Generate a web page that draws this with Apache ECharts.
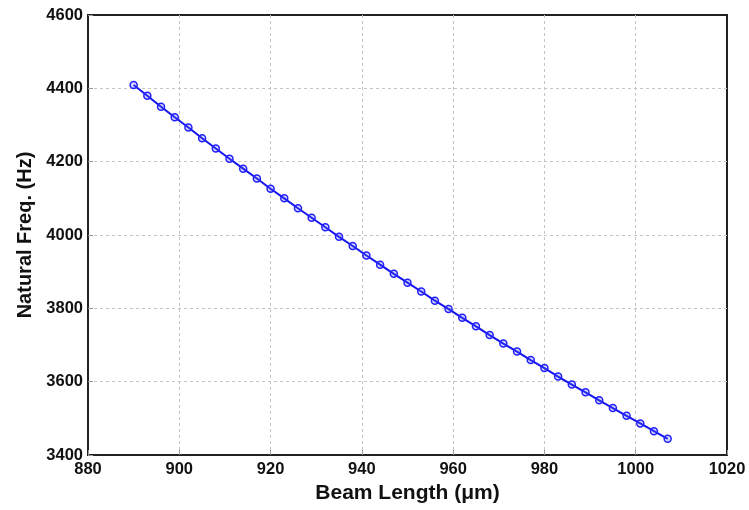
<!DOCTYPE html>
<html>
<head>
<meta charset="utf-8">
<script src="https://cdn.jsdelivr.net/npm/echarts@6/dist/echarts.min.js"></script>
<style>
  html, body { margin: 0; padding: 0; background: #fff; }
  #chart { width: 749px; height: 510px; }
</style>
</head>
<body>
<div id="chart"></div>
<script>
// beam length (um) and natural frequency (Hz)
const beamLength = [890, 893, 896, 899, 902, 905, 908, 911, 914, 917,
  920, 923, 926, 929, 932, 935, 938, 941, 944, 947,
  950, 953, 956, 959, 962, 965, 968, 971, 974, 977,
  980, 983, 986, 989, 992, 995, 998, 1001, 1004, 1007];
const naturalFreq = [4409, 4380, 4350, 4321, 4293, 4264, 4236, 4208, 4181, 4154,
  4126, 4100, 4073, 4047, 4021, 3995, 3970, 3944, 3919, 3894,
  3870, 3846, 3821, 3798, 3774, 3751, 3727, 3704, 3682, 3659,
  3637, 3614, 3592, 3571, 3549, 3528, 3507, 3486, 3465, 3444];

const font = "'Liberation Sans', Arial, sans-serif";

const chart = echarts.init(document.getElementById('chart'), null, { renderer: 'canvas' });

const points = beamLength.map((x, i) => [x, naturalFreq[i]]);

const grid = { color: '#c4c4c4', type: [3, 3], width: 1 };

const option = {
  backgroundColor: '#fff',
  animation: false,
  grid: { left: 88, right: 22, top: 15, bottom: 55, show: true, borderColor: '#222', borderWidth: 2 },
  xAxis: {
    type: 'value',
    min: 880, max: 1020, interval: 20,
    name: 'Beam Length (μm)',
    nameLocation: 'middle',
    nameGap: 28,
    nameTextStyle: { fontFamily: font, fontWeight: 'bold', fontSize: 21, color: '#111' },
    axisLine: { show: true, lineStyle: { color: '#222', width: 2 } },
    axisTick: { show: true, inside: true, length: 5, lineStyle: { color: '#999' } },
    axisLabel: { fontFamily: font, fontWeight: 'bold', fontSize: 16.5, color: '#111', margin: 6,
      formatter: v => String(v) },
    splitLine: { show: true, showMinLine: false, showMaxLine: false, lineStyle: grid }
  },
  yAxis: {
    type: 'value',
    min: 3400, max: 4600, interval: 200,
    name: 'Natural Freq. (Hz)',
    nameLocation: 'middle',
    nameGap: 51,
    nameTextStyle: { fontFamily: font, fontWeight: 'bold', fontSize: 20, color: '#111' },
    axisLine: { show: true, lineStyle: { color: '#222', width: 2 } },
    axisTick: { show: true, inside: true, length: 5, lineStyle: { color: '#999' } },
    axisLabel: { fontFamily: font, fontWeight: 'bold', fontSize: 16.5, color: '#111', margin: 5,
      formatter: v => String(v) },
    splitLine: { show: true, showMinLine: false, showMaxLine: false, lineStyle: grid }
  },
  series: [{
    type: 'line',
    data: points,
    symbol: 'circle',
    symbolSize: 7,
    showAllSymbol: true,
    lineStyle: { color: '#1414f0', width: 2 },
    itemStyle: { color: 'rgba(90,90,255,0.25)', borderColor: '#2020ff', borderWidth: 1.5 }
  }]
};

chart.setOption(option);
</script>
</body>
</html>
